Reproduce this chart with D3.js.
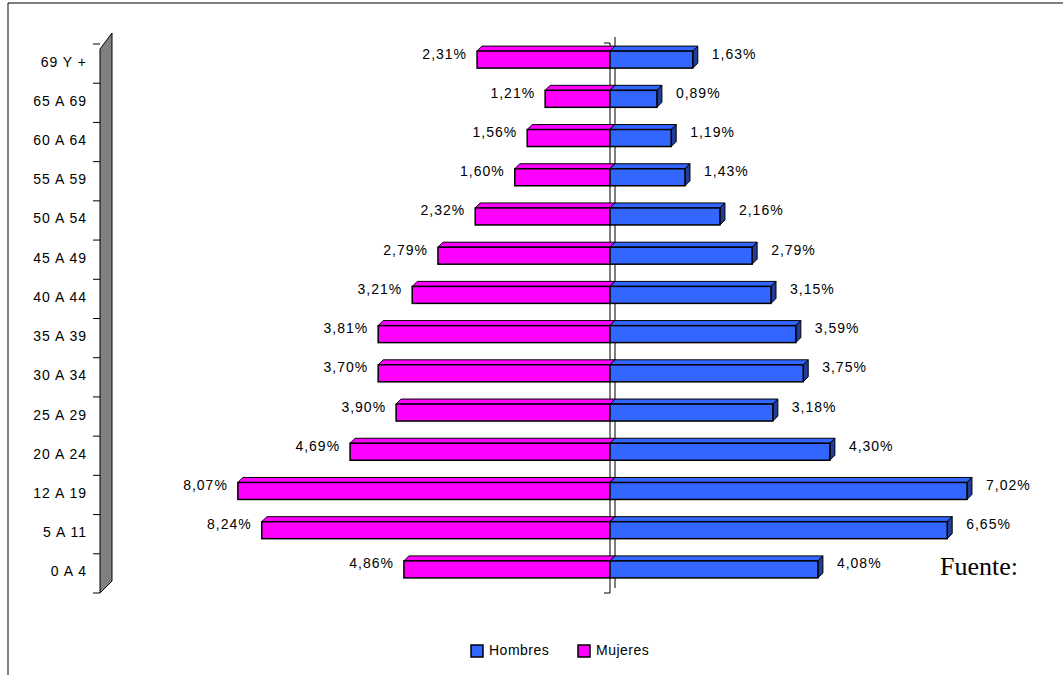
<!DOCTYPE html>
<html><head><meta charset="utf-8">
<script src="https://cdn.jsdelivr.net/npm/d3@7"></script>
<style>body{margin:0;background:#fff}svg{font-family:"Liberation Sans",Arial,sans-serif}</style>
</head><body><svg id="grafico"></svg>
<script>
"use strict"
const categorias = ['69 Y +','65 A 69','60 A 64','55 A 59','50 A 54','45 A 49','40 A 44','35 A 39','30 A 34','25 A 29','20 A 24','12 A 19','5 A 11','0 A 4'];
// longitud de barra (unidades relativas)
const barraMujeres = [2.89,1.41,1.80,2.07,2.93,3.74,4.30,5.04,5.04,4.65,5.65,8.09,7.57,4.48];
const barraHombres = [1.80,1.02,1.33,1.63,2.39,3.09,3.50,4.04,4.20,3.54,4.78,7.76,7.33,4.52];
const etiquetaMujeres = ['2,31%','1,21%','1,56%','1,60%','2,32%','2,79%','3,21%','3,81%','3,70%','3,90%','4,69%','8,07%','8,24%','4,86%'];
const etiquetaHombres = ['1,63%','0,89%','1,19%','1,43%','2,16%','2,79%','3,15%','3,59%','3,75%','3,18%','4,30%','7,02%','6,65%','4,08%'];
const series = ['Hombres','Mujeres'];
const colores = {Hombres:'#3366ff', Mujeres:'#ff00ff'};
const lados = {Hombres:'#1f3d99', Mujeres:'#990099'};

function iniciar(){
  const svg = d3.select('#grafico').attr('width',1063).attr('height',675);
  svg.append('path').attr('d','M8,675V3H1063').attr('fill','none').attr('stroke','#000');
  const centro = 610, dx = 5, dy = 5, alto = 17;
  const x = d3.scaleLinear().domain([0,1]).range([0,46]);
  const y = d3.scaleBand().domain(categorias).range([37,586]);

  // pared lateral
  svg.append('path').attr('d','M100,49L112,33V581L100,593Z').attr('fill','#808080').attr('stroke','#000');
  const lim = categorias.map(c=>y(c)+7).concat([y.range()[1]+7]);
  svg.selectAll('.tick').data(lim).enter().append('line')
    .attr('x1',93).attr('x2',100).attr('y1',d=>d).attr('y2',d=>d).attr('stroke','#000');
  svg.selectAll('.cat').data(categorias).enter().append('text')
    .attr('x',87).attr('y',d=>y(d)+y.bandwidth()/2+10).attr('text-anchor','end')
    .attr('font-size',14).attr('letter-spacing',1).text(d=>d);

  // eje central
  svg.append('path').attr('d',`M${centro-6},43H${centro}V593H${centro-6}`).attr('fill','none').attr('stroke','#000');
  svg.append('line').attr('x1',centro+dx).attr('x2',centro+dx).attr('y1',37).attr('y2',588).attr('stroke','#000');

  function barra(g,x0,x1,yc,s){
    const t = yc-alto/2;
    g.append('path').attr('d',`M${x0},${t}L${x0+dx},${t-dy}H${x1+dx}L${x1},${t}Z`).attr('fill',colores[s]).attr('stroke','#000');
    g.append('path').attr('d',`M${x1},${t}L${x1+dx},${t-dy}V${t+alto-dy}L${x1},${t+alto}Z`).attr('fill',lados[s]).attr('stroke','#000');
    g.append('rect').attr('x',x0).attr('y',t).attr('width',x1-x0).attr('height',alto).attr('fill',colores[s]).attr('stroke','#000').attr('stroke-width',1.5);
  }
  const g = svg.append('g');
  categorias.forEach((c,i)=>{
    const yc = y(c)+y.bandwidth()/2+3;
    barra(g,centro-x(barraMujeres[i]),centro,yc,'Mujeres');
    barra(g,centro,centro+x(barraHombres[i]),yc,'Hombres');
    g.append('text').attr('x',centro-x(barraMujeres[i])-10).attr('y',yc-1).attr('text-anchor','end')
      .attr('font-size',14).attr('letter-spacing',1).text(etiquetaMujeres[i]);
    g.append('text').attr('x',centro+x(barraHombres[i])+19).attr('y',yc-1)
      .attr('font-size',14).attr('letter-spacing',1).text(etiquetaHombres[i]);
  });

  svg.append('text').attr('x',940).attr('y',575).attr('font-family','"Liberation Serif",serif').attr('font-size',26).text('Fuente:');

  const ley = svg.append('g');
  const posx = [471,578];
  series.forEach((s,i)=>{
    ley.append('rect').attr('x',posx[i]).attr('y',645).attr('width',12).attr('height',12).attr('fill',colores[s]).attr('stroke','#000').attr('stroke-width',1.5);
    ley.append('text').attr('x',posx[i]+18).attr('y',655).attr('font-size',14).attr('letter-spacing',0.5).text(s);
  });
}
window.addEventListener('load', iniciar, false);
</script></body></html>
